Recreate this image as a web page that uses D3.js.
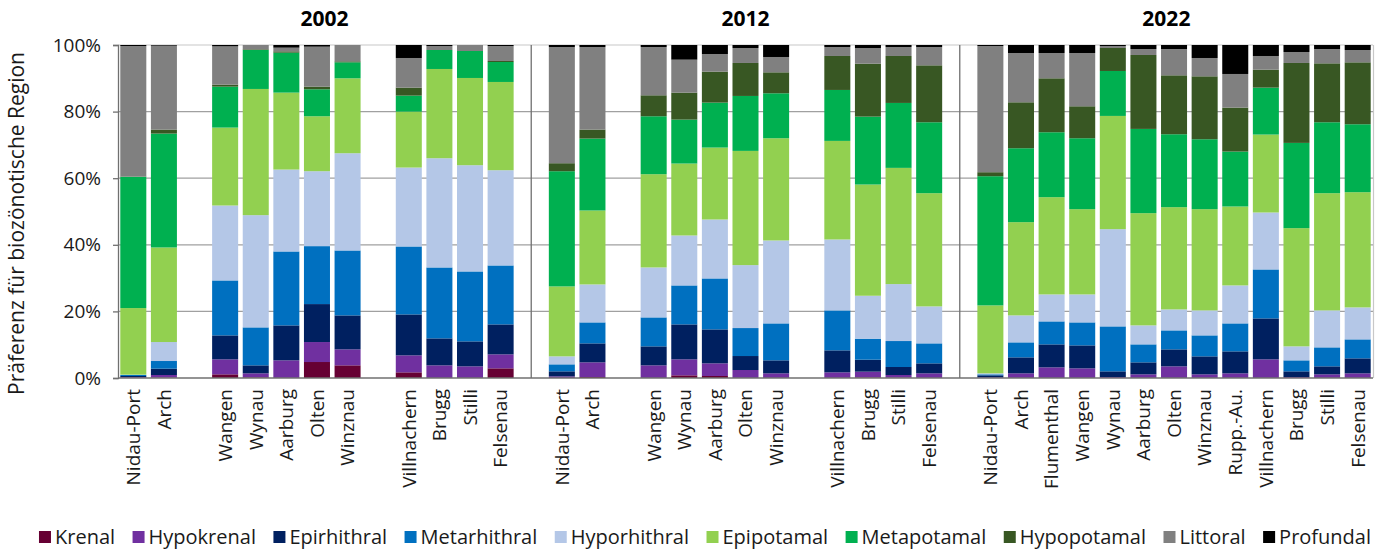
<!DOCTYPE html>
<html>
<head>
<meta charset="utf-8">
<script src="https://cdn.jsdelivr.net/npm/d3@7"></script>
<style>
  html, body { margin: 0; padding: 0; background: #fff; }
  svg { display: block; font-family: "Open Sans", "Noto Sans", sans-serif; }
</style>
</head>
<body>
<svg id="chart" width="1385" height="551"></svg>
<script>
// Sampling years and stations (null = empty slot between river sections)
const years = ["2002", "2012", "2022"];
const sites2002 = ["Nidau-Port", "Arch", null, "Wangen", "Wynau", "Aarburg", "Olten", "Winznau", null, "Villnachern", "Brugg", "Stilli", "Felsenau"];
const sites2012 = ["Nidau-Port", "Arch", null, "Wangen", "Wynau", "Aarburg", "Olten", "Winznau", null, "Villnachern", "Brugg", "Stilli", "Felsenau"];
const sites2022 = ["Nidau-Port", "Arch", "Flumenthal", "Wangen", "Wynau", "Aarburg", "Olten", "Winznau", "Rupp.-Au.", "Villnachern", "Brugg", "Stilli", "Felsenau"];

// Biocoenotic regions (stack order, bottom to top)
const regions = ["Krenal", "Hypokrenal", "Epirhithral", "Metarhithral", "Hyporhithral", "Epipotamal", "Metapotamal", "Hypopotamal", "Littoral", "Profundal"];

// Share (%) per region, one value per station in the order 2002, 2012, 2022
const krenal       = [0.1,0.1,1.1,0.2,0,4.8,3.8,1.7,0,0,2.9,  0,0.3,0,0.8,0.6,0,0,0,0.2,0.1,0,  0,0,0,0,0,0,0,0,0,0,0,0,0];
const hypokrenal   = [0.2,0.8,4.5,1.2,5.3,6.0,4.8,5.1,3.8,3.5,4.2,  0.5,4.4,3.8,4.8,3.8,2.4,1.4,1.7,1.7,0.8,1.4,  0.2,1.4,3.2,2.9,0.3,1.1,3.5,1.1,1.4,5.6,0.3,1.1,1.4];
const epirhithral  = [0.3,1.9,7.2,2.4,10.5,11.4,10.2,12.3,8.1,7.5,9.0,  1.5,5.7,5.7,10.5,10.2,4.2,3.9,6.6,3.6,2.4,3.0,  0.6,4.8,6.9,6.9,1.7,3.6,5.1,5.4,6.6,12.3,1.7,2.4,4.5];
const metarhithral = [0.3,2.3,16.5,11.4,22.2,17.4,19.5,20.4,21.3,21.0,17.7,  2.1,6.3,8.7,11.7,15.3,8.4,11.1,12.0,6.3,7.8,6.0,  0.3,4.5,6.9,6.9,13.5,5.4,5.7,6.3,8.4,14.7,3.3,5.7,5.7];
const hyporhithral = [0.1,5.7,22.5,33.7,24.6,22.5,29.2,23.7,32.8,31.9,28.6,  2.4,11.4,15.0,15.0,17.7,18.9,24.9,21.3,12.9,17.1,11.1,  0.3,8.1,8.1,8.4,29.2,5.7,6.3,7.5,11.4,17.1,4.2,11.1,9.6];
const epipotamal   = [20.0,28.4,23.4,37.9,23.1,16.5,22.5,16.8,26.8,26.2,26.5,  21.0,22.2,28.0,21.6,21.6,34.3,30.7,29.6,33.4,34.9,34.0,  20.4,28.0,29.2,25.6,34.0,33.7,30.7,30.4,23.7,23.4,35.5,35.2,34.6];
const metapotamal  = [39.4,34.2,12.3,11.7,12.0,8.1,4.8,4.8,5.7,8.1,6.0,  34.6,21.6,17.4,13.2,13.5,16.5,13.5,15.3,20.4,19.5,21.3,  38.8,22.2,19.5,21.3,13.5,25.3,21.9,21.0,16.5,14.1,25.6,21.3,20.4];
const hypopotamal  = [0.1,1.2,0.6,0.2,0.4,0.8,0.3,2.4,0,0,0.3,  2.4,2.7,6.3,8.1,9.3,9.9,6.3,10.2,15.9,14.1,17.1,  1.2,13.8,16.2,9.6,6.9,22.2,17.7,18.9,13.2,5.4,24.0,17.7,18.6];
const littoral     = [39.2,25.2,11.5,1.3,1.1,12.0,4.9,8.9,1.2,1.8,4.5,  34.9,24.8,14.5,9.9,5.3,4.5,4.6,2.7,4.7,2.7,5.5,  37.9,14.8,7.6,16.0,0.6,1.8,7.9,5.5,10.1,4.1,3.3,4.3,3.7];
const profundal    = [0.3,0.2,0.4,0,0.8,0.5,0,3.9,0.3,0,0.3,  0.6,0.6,0.6,4.4,2.7,0.9,3.6,0.6,0.9,0.6,0.6,  0.3,2.4,2.4,2.4,0.3,1.2,1.2,3.9,8.7,3.3,2.1,1.2,1.5];

const yTicks = [0, 20, 40, 60, 80, 100];

const seriesValues = [krenal, hypokrenal, epirhithral, metarhithral, hyporhithral,
                      epipotamal, metapotamal, hypopotamal, littoral, profundal];
const palette = ["#660033", "#7030a0", "#002060", "#0070c0", "#b4c7e7",
                 "#92d050", "#00b050", "#385723", "#808080", "#000000"];

const sitesByYear = [sites2002, sites2012, sites2022];

// Build slot list (bars, gaps, and separator slots between years) and bar rows
const slots = [];
const rows = [];
const separators = [];
let barIndex = 0;
years.forEach((yr, i) => {
  if (i > 0) { slots.push("sep" + i); separators.push("sep" + i); }
  sitesByYear[i].forEach((site, j) => {
    const key = yr + "|" + (site === null ? "gap" + j : site);
    slots.push(key);
    if (site !== null) {
      const row = { key, site, year: yr };
      regions.forEach((r, k) => { row[r] = seriesValues[k][barIndex]; });
      rows.push(row);
      barIndex++;
    }
  });
});

const svg = d3.select("#chart");
const plot = { left: 118, right: 1373, top: 45, bottom: 378 };

const x = d3.scaleBand()
  .domain(slots)
  .range([plot.left, plot.right])
  .paddingInner(0.15)
  .paddingOuter(0.075);

const y = d3.scaleLinear().domain([0, 100]).range([plot.bottom, plot.top]);
const color = d3.scaleOrdinal().domain(regions).range(palette);

// Horizontal gridlines
svg.append("g")
  .selectAll("line")
  .data(yTicks.filter(t => t > 0))
  .join("line")
  .attr("x1", plot.left).attr("x2", plot.right)
  .attr("y1", d => y(d)).attr("y2", d => y(d))
  .attr("stroke", d => d === 100 ? "#c8c8c8" : "#a0a0a0")
  .attr("stroke-width", 1.2);

// Right border of plot area
svg.append("line")
  .attr("x1", plot.right + 0.5).attr("x2", plot.right + 0.5)
  .attr("y1", plot.top).attr("y2", plot.bottom)
  .attr("stroke", "#c8c8c8").attr("stroke-width", 1.2);

// Stacked bars
const stack = d3.stack().keys(regions);
const stacked = stack(rows);

svg.append("g")
  .selectAll("g")
  .data(stacked)
  .join("g")
  .attr("fill", d => color(d.key))
  .selectAll("rect")
  .data(d => d)
  .join("rect")
  .attr("x", d => x(d.data.key))
  .attr("width", x.bandwidth())
  .attr("y", d => y(d[1]))
  .attr("height", d => Math.max(0, y(d[0]) - y(d[1])));

// Separators between years
svg.append("g")
  .selectAll("line")
  .data(separators)
  .join("line")
  .attr("x1", d => x(d) + x.bandwidth() / 2)
  .attr("x2", d => x(d) + x.bandwidth() / 2)
  .attr("y1", plot.top).attr("y2", plot.bottom)
  .attr("stroke", "#707070").attr("stroke-width", 1.3);

// Y axis
const yAxis = d3.axisLeft(y)
  .tickValues(yTicks)
  .tickFormat(d => d + "%")
  .tickSize(5)
  .tickPadding(12);

const yg = svg.append("g")
  .attr("transform", `translate(${plot.left},0)`)
  .call(yAxis);
yg.select(".domain").attr("stroke", "#707070").attr("stroke-width", 1.3);
yg.selectAll(".tick line").attr("stroke", "#707070").attr("stroke-width", 1.3);
yg.selectAll(".tick text")
  .attr("fill", "#1a1a1a")
  .style("font-size", "19px")
  .style("font-family", "'Open Sans', sans-serif");

// Bottom axis line
svg.append("line")
  .attr("x1", plot.left).attr("x2", plot.right)
  .attr("y1", plot.bottom).attr("y2", plot.bottom)
  .attr("stroke", "#707070").attr("stroke-width", 1.3);

// Station labels (rotated)
svg.append("g")
  .selectAll("text")
  .data(rows)
  .join("text")
  .attr("transform", d => `translate(${x(d.key) + x.bandwidth() / 2},389) rotate(-90)`)
  .attr("text-anchor", "end")
  .attr("dy", "0.36em")
  .attr("fill", "#1a1a1a")
  .style("font-size", "19px")
  .text(d => d.site);

// Year headings centred over each section
const bounds = [plot.left,
  ...separators.map(s => x(s) + x.bandwidth() / 2),
  plot.right];
svg.append("g")
  .selectAll("text")
  .data(years)
  .join("text")
  .attr("x", (d, i) => (bounds[i] + bounds[i + 1]) / 2)
  .attr("y", 26)
  .attr("text-anchor", "middle")
  .attr("fill", "#000")
  .style("font-size", "21px")
  .style("font-weight", "bold")
  .text(d => d);

// Y axis title
svg.append("text")
  .attr("transform", `translate(24,${(plot.top + plot.bottom) / 2 + 12}) rotate(-90)`)
  .attr("text-anchor", "middle")
  .attr("fill", "#1a1a1a")
  .style("font-size", "21px")
  .text("Präferenz für biozönotische Region");

// Legend
const legend = svg.append("g");
const items = legend.selectAll("g")
  .data(regions)
  .join("g");
items.append("rect")
  .attr("width", 12).attr("height", 12)
  .attr("y", -6)
  .attr("fill", d => color(d));
items.append("text")
  .attr("x", 16)
  .attr("dy", "0.36em")
  .attr("fill", "#1a1a1a")
  .style("font-size", "20px")
  .text(d => d);

const itemGap = 17.5;
let cursor = 0;
items.each(function () {
  const g = d3.select(this);
  const w = g.select("text").node().getComputedTextLength();
  g.attr("transform", `translate(${cursor},537)`);
  cursor += 16 + w + itemGap;
});
const totalW = cursor - itemGap;
legend.attr("transform", `translate(${705 - totalW / 2},0)`);
</script>
</body>
</html>
